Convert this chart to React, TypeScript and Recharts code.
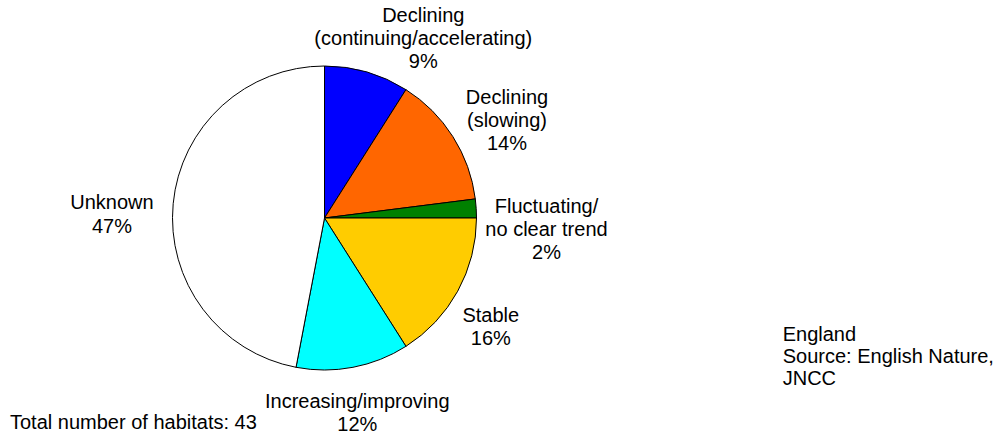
import React from 'react';
import { PieChart, Pie, Cell } from 'recharts';

// habitat trend categories, clockwise from 12 o'clock
const categories = [
  'Declining\n(continuing/accelerating)',
  'Declining\n(slowing)',
  'Fluctuating/\nno clear trend',
  'Stable',
  'Increasing/improving',
  'Unknown',
];
const shares = [9, 14, 2, 16, 12, 47];
const sliceColors = ['#0000FF', '#FF6600', '#008000', '#FFCC00', '#00FFFF', '#FFFFFF'];

// label block centres relative to the pie centre
const labelOffsets = [
  [98.8, -180],
  [182.5, -98],
  [222, 11],
  [166.3, 108.3],
  [32.8, 194.3],
  [-212.5, -4],
];

const data = categories.map((name, i) => ({ name, value: shares[i] }));

const FONT = '"Liberation Sans", Arial, sans-serif';
const FONT_SIZE = 20;
const LINE_H = 23.2;

const renderLabel = (props: any) => {
  const { cx, cy, index, value, name } = props;
  const lines = [...String(name).split('\n'), `${value}%`];
  const [dx, dy] = labelOffsets[index];
  const top = cy + dy - ((lines.length - 1) / 2) * LINE_H;
  return (
    <text
      x={cx + dx}
      y={top}
      textAnchor="middle"
      dominantBaseline="central"
      fontFamily={FONT}
      fontSize={FONT_SIZE}
      fill="#000"
    >
      {lines.map((l, j) => (
        <tspan key={j} x={cx + dx} y={top + j * LINE_H}>
          {l}
        </tspan>
      ))}
    </text>
  );
};

export default function App() {
  const noteStyle: React.CSSProperties = {
    position: 'absolute',
    fontFamily: FONT,
    fontSize: FONT_SIZE,
    color: '#000',
    whiteSpace: 'nowrap',
  };
  return (
    <div style={{ position: 'absolute', left: 0, top: 0, width: 995, height: 434, background: '#fff' }}>
      <PieChart width={995} height={434} margin={{ top: 0, right: 0, bottom: 0, left: 0 }}>
        <Pie
          data={data}
          dataKey="value"
          nameKey="name"
          cx={324.5}
          cy={218}
          outerRadius={152}
          startAngle={90}
          endAngle={-270}
          stroke="#000"
          strokeWidth={1}
          label={renderLabel}
          labelLine={false}
          isAnimationActive={false}
        >
          {data.map((d, i) => (
            <Cell key={d.name} fill={sliceColors[i]} />
          ))}
        </Pie>
      </PieChart>
      <div style={{ ...noteStyle, left: 10, top: 411.4, lineHeight: '23.2px' }}>Total number of habitats: 43</div>
      <div style={{ ...noteStyle, left: 782.7, top: 324.2, lineHeight: '21.7px' }}>
        England
        <br />
        Source: English Nature,
        <br />
        JNCC
      </div>
    </div>
  );
}
